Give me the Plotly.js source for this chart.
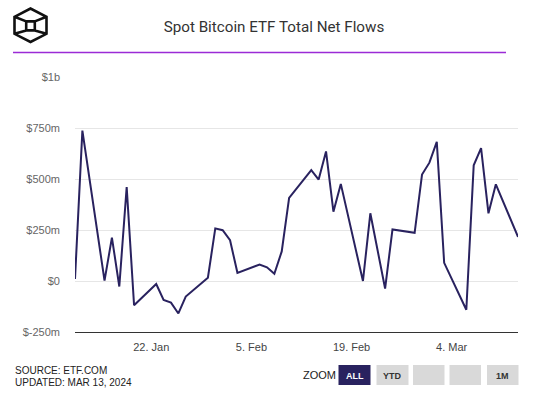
<!DOCTYPE html>
<html>
<head>
<meta charset="utf-8">
<script src="https://cdn.plot.ly/plotly-3.0.1.min.js"></script>
<style>html,body{margin:0;padding:0;background:#fff;}#chart{width:539px;height:393px;}</style>
</head>
<body>
<div id="chart"></div>
<script>
// ---- data, values in $ millions ----
const dates = [
  '2024-01-11','2024-01-12','2024-01-15','2024-01-16','2024-01-17','2024-01-18','2024-01-19',
  '2024-01-22','2024-01-23','2024-01-24','2024-01-25','2024-01-26',
  '2024-01-29','2024-01-30','2024-01-31','2024-02-01','2024-02-02',
  '2024-02-05','2024-02-06','2024-02-07','2024-02-08','2024-02-09',
  '2024-02-12','2024-02-13','2024-02-14','2024-02-15','2024-02-16',
  '2024-02-19','2024-02-20','2024-02-22','2024-02-23',
  '2024-02-26','2024-02-27','2024-02-28','2024-02-29','2024-03-01',
  '2024-03-04','2024-03-05','2024-03-06','2024-03-07','2024-03-08',
  '2024-03-11'
];
const netFlows = [
  10, 737, 2, 213, -27, 461, -119,
  -15, -93, -106, -159, -76,
  16, 258, 249, 200, 40,
  81, 67, 35, 145, 407,
  543, 497, 635, 340, 476,
  0, 332, -37, 253,
  236, 522, 580, 682, 89,
  -141, 567, 651, 332, 474,
  216
];
const yTickVals = [-250, 0, 250, 500, 750, 1000];
const yTickText = ['$-250m', '$0', '$250m', '$500m', '$750m', '$1b'];
const xTickVals = ['2024-01-22', '2024-02-05', '2024-02-19', '2024-03-04'];
const titleText = 'Spot Bitcoin ETF Total Net Flows';
const sourceText = 'SOURCE: ETF.COM';
const updatedText = 'UPDATED: MAR 13, 2024';
const zoomButtons = ['ALL', 'YTD', '', '', '1M'];

// ---- layout helpers (pixel -> paper) ----
const W = 539, H = 393;
const M = {l: 75, r: 21, t: 77, b: 61};
const PW = W - M.l - M.r, PH = H - M.t - M.b;
const px = x => (x - M.l) / PW;
const py = y => (H - M.b - y) / PH;
const pt = (x, y) => px(x) + ',' + py(y);

const LINE = '#29225f';
const shapes = [];
const annotations = [];

// purple header rule
shapes.push({type: 'line', xref: 'paper', yref: 'paper', x0: px(13), x1: px(506), y0: py(52.5), y1: py(52.5),
  line: {color: '#9b2bd6', width: 1.5}});

// logo (hexagonal cube)
const logoPath =
  'M' + pt(14.5, 16.8) + ' L' + pt(30.5, 8.5) + ' L' + pt(46.5, 16.8) + ' L' + pt(46.5, 33.8) +
  ' L' + pt(30.5, 42) + ' L' + pt(14.5, 33.8) + ' Z' +
  ' M' + pt(26.2, 21.4) + ' L' + pt(34.8, 21.4) + ' L' + pt(34.8, 30.4) + ' L' + pt(26.2, 30.4) + ' Z' +
  ' M' + pt(14.5, 16.8) + ' L' + pt(26.2, 21.4) +
  ' M' + pt(46.5, 16.8) + ' L' + pt(34.8, 21.4) +
  ' M' + pt(14.5, 33.8) + ' L' + pt(26.2, 30.4) +
  ' M' + pt(46.5, 33.8) + ' L' + pt(34.8, 30.4);
shapes.push({type: 'path', xref: 'paper', yref: 'paper', path: logoPath, line: {color: '#111', width: 2.6}});

// zoom buttons
const btnX = [[338.5, 370.5], [376.5, 408.5], [413, 444.5], [449.5, 481], [487, 518.5]];
zoomButtons.forEach((label, i) => {
  const active = i === 0;
  shapes.push({type: 'rect', xref: 'paper', yref: 'paper', x0: px(btnX[i][0]), x1: px(btnX[i][1]),
    y0: py(385), y1: py(365), line: {width: 0}, fillcolor: active ? LINE : '#d9d9d9'});
  if (label) annotations.push({xref: 'paper', yref: 'paper', x: px((btnX[i][0] + btnX[i][1]) / 2), y: py(376),
    text: '<b>' + label + '</b>', showarrow: false, xanchor: 'center', yanchor: 'middle',
    font: {family: 'Liberation Sans, Arial, sans-serif', size: 9, color: active ? '#ffffff' : '#333333'}});
});
annotations.push({xref: 'paper', yref: 'paper', x: px(301), y: py(375), text: 'ZOOM', showarrow: false,
  xanchor: 'left', yanchor: 'middle', font: {family: 'Liberation Sans, Arial, sans-serif', size: 11, color: '#222'}});
annotations.push({xref: 'paper', yref: 'paper', x: px(13), y: py(370), text: sourceText, showarrow: false,
  xanchor: 'left', yanchor: 'middle', font: {family: 'Liberation Sans, Arial, sans-serif', size: 10, color: '#222'}});
annotations.push({xref: 'paper', yref: 'paper', x: px(13), y: py(382), text: updatedText, showarrow: false,
  xanchor: 'left', yanchor: 'middle', font: {family: 'Liberation Sans, Arial, sans-serif', size: 10, color: '#222'}});

const traces = [
  {x: dates, y: netFlows, type: 'scatter', mode: 'lines', xaxis: 'x', yaxis: 'y',
   line: {color: LINE, width: 2}, hoverinfo: 'x+y', name: 'Net Flows'},
  {x: [], y: [], type: 'scatter', mode: 'lines', xaxis: 'x2', yaxis: 'y', showlegend: false, hoverinfo: 'skip'}
];

const layout = {
  width: W, height: H,
  margin: M,
  paper_bgcolor: '#ffffff', plot_bgcolor: '#ffffff',
  showlegend: false,
  font: {family: 'Liberation Sans, Arial, sans-serif', color: '#666'},
  title: {text: titleText, x: 274 / W, xanchor: 'center', xref: 'container', y: 1 - 27 / H, yanchor: 'middle', yref: 'container',
    font: {family: 'Roboto, Inter, sans-serif', size: 15.2, color: '#333'}},
  xaxis: {type: 'date', range: [dates[0], dates[dates.length - 1]], showticklabels: false, showgrid: false,
    zeroline: false, showline: true, linecolor: '#333', linewidth: 1.2, ticks: '', fixedrange: true},
  xaxis2: {type: 'date', overlaying: 'x', anchor: 'y', side: 'bottom',
    range: ['2024-01-11 08:00', '2024-03-13 06:30'],
    tickmode: 'array', tickvals: xTickVals, tickformat: '%-d. %b', showgrid: false, zeroline: false,
    showline: false, ticks: '', ticklabelstandoff: 7,
    tickfont: {family: 'Liberation Sans, Arial, sans-serif', size: 11, color: '#444'}},
  yaxis: {range: [-250, 1000], tickmode: 'array', tickvals: yTickVals, ticktext: yTickText,
    showgrid: true, gridcolor: '#e6e6e6', gridwidth: 1, zeroline: false, showline: false, ticks: '',
    ticklabelstandoff: 14, tickfont: {family: 'Liberation Sans, Arial, sans-serif', size: 11, color: '#666'}},
  shapes: shapes,
  annotations: annotations
};

Plotly.newPlot('chart', traces, layout, {displayModeBar: false, staticPlot: true});
</script>
</body>
</html>
